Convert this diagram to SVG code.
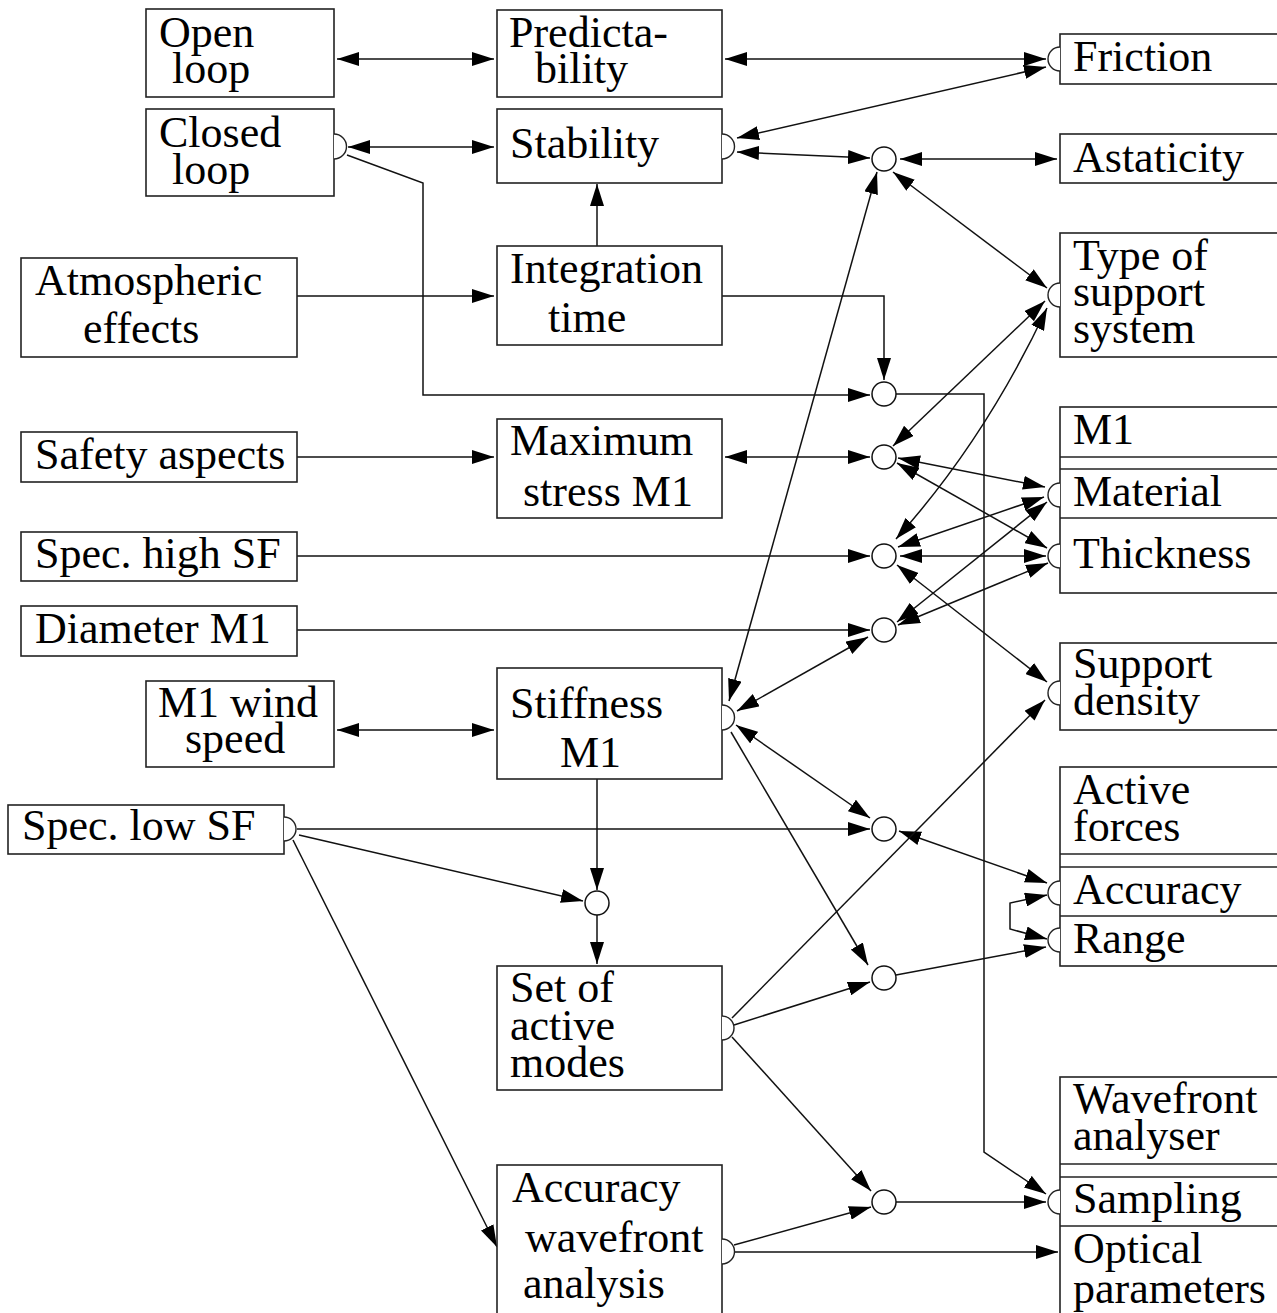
<svg xmlns="http://www.w3.org/2000/svg" width="1277" height="1313" viewBox="0 0 1277 1313">
<defs>
<style>
.box{fill:#fff;stroke:#222;stroke-width:1.6}
.hc{fill:#fff;stroke:#222;stroke-width:1.4}
.jn{fill:#fff;stroke:#111;stroke-width:1.5}
.t{font-family:"Liberation Serif","Times New Roman",serif;font-size:44px;fill:#000}
.e{fill:none;stroke:#111;stroke-width:1.5}
.a{marker-end:url(#ah)}
.d{marker-start:url(#ah);marker-end:url(#ah)}
</style>
<marker id="ah" viewBox="0 0 22 14" refX="22" refY="7" markerWidth="22" markerHeight="14" markerUnits="userSpaceOnUse" orient="auto-start-reverse">
<path d="M0,0 L22,7 L0,14 z" fill="#000"/>
</marker>
</defs>

<g id="connectors">
<line class="e d" x1="337" y1="59" x2="494" y2="59"/>
<line class="e d" x1="348" y1="147" x2="494" y2="147"/>
<line class="e d" x1="725" y1="59" x2="1046" y2="59"/>
<line class="e d" x1="737" y1="138" x2="1046" y2="67"/>
<line class="e d" x1="737" y1="152" x2="870" y2="158"/>
<line class="e d" x1="900" y1="159" x2="1057" y2="159"/>
<line class="e d" x1="893" y1="172" x2="1047" y2="288"/>
<line class="e a" x1="597" y1="246" x2="597" y2="184"/>
<line class="e a" x1="297" y1="296" x2="494" y2="296"/>
<polyline class="e a" points="722,296 884,296 884,380"/>
<polyline class="e a" points="347,155 423,183 423,395 870,395"/>
<polyline class="e a" points="896,394 984,394 984,1152 1046,1194"/>
<line class="e a" x1="297" y1="457" x2="494" y2="457"/>
<line class="e d" x1="725" y1="457" x2="870" y2="457"/>
<line class="e d" x1="893" y1="446" x2="1045" y2="301"/>
<path class="e d" d="M896,539 Q985,440 1047,308"/>
<line class="e d" x1="898" y1="458" x2="1045" y2="487"/>
<line class="e d" x1="897" y1="463" x2="1047" y2="548"/>
<line class="e d" x1="898" y1="547" x2="1044" y2="497"/>
<line class="e d" x1="900" y1="556" x2="1046" y2="556"/>
<line class="e a" x1="297" y1="556" x2="870" y2="556"/>
<line class="e d" x1="897" y1="565" x2="1047" y2="682"/>
<line class="e d" x1="1047" y1="502" x2="897" y2="622"/>
<line class="e d" x1="1048" y1="563" x2="898" y2="625"/>
<line class="e a" x1="297" y1="630" x2="870" y2="630"/>
<line class="e d" x1="868" y1="637" x2="737" y2="711"/>
<line class="e d" x1="877" y1="172" x2="729" y2="701"/>
<line class="e d" x1="337" y1="730" x2="494" y2="730"/>
<line class="e d" x1="736" y1="725" x2="870" y2="818"/>
<line class="e a" x1="731" y1="732" x2="868" y2="965"/>
<line class="e a" x1="597" y1="779" x2="597" y2="890"/>
<line class="e a" x1="297" y1="829" x2="870" y2="829"/>
<line class="e a" x1="299" y1="835" x2="583" y2="901"/>
<line class="e a" x1="293" y1="840" x2="497" y2="1247"/>
<line class="e a" x1="597" y1="915" x2="597" y2="964"/>
<line class="e d" x1="899" y1="831" x2="1047" y2="883"/>
<line class="e a" x1="732" y1="1018" x2="1045" y2="700"/>
<line class="e a" x1="734" y1="1025" x2="870" y2="982"/>
<line class="e a" x1="896" y1="975" x2="1046" y2="947"/>
<polyline class="e d" points="1047,895 1010,903 1010,929 1047,939"/>
<line class="e a" x1="732" y1="1037" x2="871" y2="1191"/>
<line class="e a" x1="734" y1="1245" x2="871" y2="1207"/>
<line class="e a" x1="896" y1="1202" x2="1046" y2="1202"/>
<line class="e a" x1="735" y1="1252" x2="1058" y2="1252"/>
</g>

<g id="junctions">
<circle id="j1" class="jn" cx="884" cy="159" r="12"/>
<circle id="j2" class="jn" cx="884" cy="394" r="12"/>
<circle id="j3" class="jn" cx="884" cy="457" r="12"/>
<circle id="j4" class="jn" cx="884" cy="556" r="12"/>
<circle id="j5" class="jn" cx="884" cy="630" r="12"/>
<circle id="j6" class="jn" cx="884" cy="829" r="12"/>
<circle id="j7" class="jn" cx="884" cy="978" r="12"/>
<circle id="j8" class="jn" cx="884" cy="1202" r="12"/>
<circle id="j9" class="jn" cx="597" cy="903" r="12"/>
</g>

<g id="open-loop">
<rect class="box" x="146" y="9" width="188" height="88"/>
<text class="t" x="159" y="47">Open</text>
<text class="t" x="172" y="83">loop</text>
</g>
<g id="closed-loop">
<rect class="box" x="146" y="109" width="188" height="87"/>
<path class="hc" d="M334,134 A12.5,12.5 0 0 1 334,159"/>
<text class="t" x="159" y="147">Closed</text>
<text class="t" x="172" y="184">loop</text>
</g>
<g id="atmospheric-effects">
<rect class="box" x="21" y="258" width="276" height="99"/>
<text class="t" x="35" y="295">Atmospheric</text>
<text class="t" x="83" y="343">effects</text>
</g>
<g id="safety-aspects">
<rect class="box" x="21" y="432" width="276" height="50"/>
<text class="t" x="35" y="469">Safety aspects</text>
</g>
<g id="spec-high-sf">
<rect class="box" x="21" y="532" width="276" height="49"/>
<text class="t" x="35" y="568">Spec. high SF</text>
</g>
<g id="diameter-m1">
<rect class="box" x="21" y="606" width="276" height="50"/>
<text class="t" x="35" y="643">Diameter M1</text>
</g>
<g id="m1-wind-speed">
<rect class="box" x="146" y="681" width="188" height="86"/>
<text class="t" x="158" y="717">M1 wind</text>
<text class="t" x="185" y="753">speed</text>
</g>
<g id="spec-low-sf">
<rect class="box" x="8" y="805" width="276" height="49"/>
<path class="hc" d="M284,817 A12,12 0 0 1 284,841"/>
<text class="t" x="22" y="840">Spec. low SF</text>
</g>

<g id="predictability">
<rect class="box" x="497" y="10" width="225" height="87"/>
<text class="t" x="509" y="47">Predicta-</text>
<text class="t" x="535" y="83">bility</text>
</g>
<g id="stability">
<rect class="box" x="497" y="109" width="225" height="74"/>
<path class="hc" d="M722,134 A12.5,12.5 0 0 1 722,159"/>
<text class="t" x="510" y="158">Stability</text>
</g>
<g id="integration-time">
<rect class="box" x="497" y="246" width="225" height="99"/>
<text class="t" x="510" y="283">Integration</text>
<text class="t" x="548" y="332">time</text>
</g>
<g id="maximum-stress-m1">
<rect class="box" x="497" y="419" width="225" height="99"/>
<text class="t" x="510" y="455">Maximum</text>
<text class="t" x="523" y="506">stress M1</text>
</g>
<g id="stiffness-m1">
<rect class="box" x="497" y="668" width="225" height="111"/>
<path class="hc" d="M722,705 A12.5,12.5 0 0 1 722,730"/>
<text class="t" x="510" y="718">Stiffness</text>
<text class="t" x="560" y="767">M1</text>
</g>
<g id="set-of-active-modes">
<rect class="box" x="497" y="966" width="225" height="124"/>
<path class="hc" d="M722,1016 A12,12 0 0 1 722,1040"/>
<text class="t" x="510" y="1002">Set of</text>
<text class="t" x="510" y="1040">active</text>
<text class="t" x="510" y="1077">modes</text>
</g>
<g id="accuracy-wavefront-analysis">
<rect class="box" x="497" y="1165" width="225" height="160"/>
<path class="hc" d="M722,1239 A12.5,12.5 0 0 1 722,1264"/>
<text class="t" x="512" y="1202">Accuracy</text>
<text class="t" x="525" y="1252">wavefront</text>
<text class="t" x="523" y="1298">analysis</text>
</g>

<g id="friction">
<rect class="box" x="1060" y="34" width="240" height="50"/>
<path class="hc" d="M1060,47 A12,12 0 0 0 1060,71"/>
<text class="t" x="1073" y="71">Friction</text>
</g>
<g id="astaticity">
<rect class="box" x="1060" y="134" width="240" height="49"/>
<text class="t" x="1073" y="172">Astaticity</text>
</g>
<g id="type-of-support-system">
<rect class="box" x="1060" y="233" width="240" height="124"/>
<path class="hc" d="M1060,283 A12,12 0 0 0 1060,307"/>
<text class="t" x="1073" y="270">Type of</text>
<text class="t" x="1073" y="306">support</text>
<text class="t" x="1073" y="343">system</text>
</g>
<g id="m1">
<rect class="box" x="1060" y="407" width="240" height="186"/>
<line class="box" x1="1060" y1="457" x2="1300" y2="457"/>
<line class="box" x1="1060" y1="469" x2="1300" y2="469"/>
<line class="box" x1="1060" y1="518" x2="1300" y2="518"/>
<path class="hc" d="M1060,483 A12,12 0 0 0 1060,507"/>
<path class="hc" d="M1060,544 A12,12 0 0 0 1060,568"/>
<text class="t" x="1073" y="444">M1</text>
<text class="t" x="1073" y="506">Material</text>
<text class="t" x="1073" y="568">Thickness</text>
</g>
<g id="support-density">
<rect class="box" x="1060" y="643" width="240" height="87"/>
<path class="hc" d="M1060,681 A12,12 0 0 0 1060,705"/>
<text class="t" x="1073" y="678">Support</text>
<text class="t" x="1073" y="715">density</text>
</g>
<g id="active-forces">
<rect class="box" x="1060" y="767" width="240" height="199"/>
<line class="box" x1="1060" y1="854" x2="1300" y2="854"/>
<line class="box" x1="1060" y1="867" x2="1300" y2="867"/>
<line class="box" x1="1060" y1="916" x2="1300" y2="916"/>
<path class="hc" d="M1060,881 A12,12 0 0 0 1060,905"/>
<path class="hc" d="M1060,928 A12,12 0 0 0 1060,952"/>
<text class="t" x="1073" y="804">Active</text>
<text class="t" x="1073" y="841">forces</text>
<text class="t" x="1073" y="904">Accuracy</text>
<text class="t" x="1073" y="953">Range</text>
</g>
<g id="wavefront-analyser">
<rect class="box" x="1060" y="1077" width="240" height="250"/>
<line class="box" x1="1060" y1="1164" x2="1300" y2="1164"/>
<line class="box" x1="1060" y1="1177" x2="1300" y2="1177"/>
<line class="box" x1="1060" y1="1226" x2="1300" y2="1226"/>
<path class="hc" d="M1060,1190 A12,12 0 0 0 1060,1214"/>
<text class="t" x="1073" y="1113">Wavefront</text>
<text class="t" x="1073" y="1150">analyser</text>
<text class="t" x="1073" y="1213">Sampling</text>
<text class="t" x="1073" y="1263">Optical</text>
<text class="t" x="1073" y="1303">parameters</text>
</g>
</svg>
